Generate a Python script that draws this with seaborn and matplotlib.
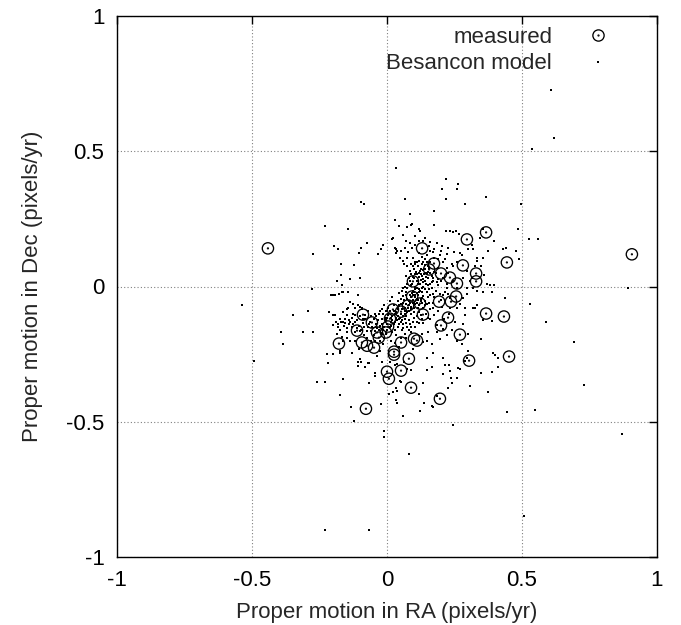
import matplotlib
matplotlib.use("Agg")
import matplotlib.pyplot as plt
import numpy as np
import pandas as pd
import seaborn as sns
from matplotlib.path import Path
from matplotlib.lines import Line2D

# Measured proper motions (RA, Dec) in pixels/yr
measured_ra = [-0.441, 0.907, 0.367, 0.296, 0.130, 0.444, 0.174, 0.281, 0.200, 0.330,
               0.330, 0.233, 0.259, 0.096, 0.256, 0.237, 0.193, 0.093, 0.022, 0.052,
               0.133, 0.226, 0.011, 0.200, 0.004, -0.004, 0.270, 0.100, 0.111, 0.052,
               0.026, 0.026, 0.081, 0.304, -0.089, -0.056, -0.111, -0.037, -0.093, -0.074,
               -0.048, -0.178, 0.000, 0.007, 0.052, 0.089, -0.078, 0.196, 0.367, 0.433,
               0.452, -0.030, 0.156, 0.122, 0.078]
measured_dec = [0.141, 0.119, 0.200, 0.174, 0.141, 0.089, 0.085, 0.078, 0.048, 0.048,
                0.019, 0.033, 0.011, 0.019, -0.037, -0.056, -0.056, -0.037, -0.085, -0.093,
                -0.104, -0.115, -0.119, -0.144, -0.148, -0.170, -0.178, -0.193, -0.200, -0.207,
                -0.241, -0.252, -0.267, -0.274, -0.104, -0.133, -0.163, -0.170, -0.207, -0.219,
                -0.226, -0.211, -0.315, -0.341, -0.311, -0.374, -0.452, -0.415, -0.100, -0.111,
                -0.259, -0.189, 0.063, -0.063, -0.070]

# Besancon model predictions, grouped by region of the diagram
model_outliers = [
    (0.607, 0.726), (0.619, 0.548), (0.537, 0.507), (0.033, 0.437), (-0.537, -0.067),
    (-0.493, -0.274), (-0.393, -0.167), (-0.385, -0.211), (-0.348, -0.107), (-0.293, -0.089),
    (-0.311, -0.167), (-0.274, -0.170), (-0.278, -0.011), (-0.274, 0.119), (-0.230, 0.222),
    (0.893, -0.004), (0.589, -0.133), (0.693, -0.207), (0.730, -0.363), (0.548, -0.456),
    (0.444, -0.463), (0.870, -0.544), (0.507, -0.848), (-0.230, -0.900), (-0.067, -0.900),
    (-0.011, -0.556), (0.081, -0.619), (0.244, -0.511), (0.530, -0.063), (0.496, 0.304),
]
model_upper_left = [
    (-0.144, 0.211), (-0.196, 0.148), (-0.181, 0.137), (-0.096, 0.144), (-0.074, 0.159),
    (-0.104, 0.122), (-0.033, 0.119), (-0.022, 0.137), (-0.015, 0.152), (0.019, 0.174),
    (-0.096, 0.311), (-0.085, 0.304), (-0.170, 0.085), (-0.122, 0.078), (-0.170, 0.041),
    (-0.137, 0.026), (-0.100, 0.030), (-0.185, 0.019), (-0.167, 0.007), (-0.200, -0.030),
    (-0.207, -0.033), (-0.167, -0.019), (-0.126, -0.063), (-0.107, -0.067), (-0.100, -0.074),
    (-0.148, -0.085), (-0.093, -0.085), (0.033, 0.137), (0.037, 0.130),
]
model_upper = [
    (0.219, 0.396), (0.263, 0.378), (0.204, 0.359), (0.259, 0.359), (0.067, 0.322),
    (0.219, 0.322), (0.289, 0.304), (0.085, 0.267), (0.174, 0.278), (0.030, 0.244),
    (0.044, 0.222), (0.074, 0.219), (0.089, 0.226), (0.119, 0.211), (0.174, 0.226),
    (0.219, 0.204), (0.244, 0.200), (0.256, 0.204), (0.267, 0.193), (0.233, 0.207),
    (0.122, 0.207), (0.093, 0.230), (0.022, 0.178), (0.030, 0.141), (0.033, 0.122),
    (0.052, 0.133), (0.067, 0.141), (0.078, 0.126), (0.093, 0.144), (0.104, 0.152),
    (0.133, 0.167), (0.159, 0.163), (0.185, 0.159), (0.204, 0.148), (0.226, 0.141),
    (0.248, 0.126), (0.270, 0.122), (0.315, 0.152), (0.333, 0.107), (0.222, 0.119),
    (0.196, 0.115), (0.170, 0.126), (0.148, 0.115), (0.119, 0.122), (0.096, 0.107),
    (0.074, 0.107), (0.048, 0.107), (0.063, 0.085), (0.089, 0.085), (0.111, 0.089),
    (0.130, 0.085), (0.148, 0.089), (0.207, 0.089), (0.241, 0.085), (0.259, 0.089),
    (0.222, 0.067), (0.189, 0.070), (0.122, 0.059), (0.104, 0.048), (0.085, 0.056),
    (0.148, 0.048), (0.170, 0.033), (0.207, 0.033), (0.244, 0.022), (0.281, 0.030),
    (0.307, 0.022), (0.093, 0.011), (0.133, 0.015), (0.152, 0.004), (0.189, 0.004),
    (0.222, -0.004), (0.259, -0.007), (0.296, -0.007), (0.319, -0.004), (0.111, -0.004),
    (0.122, -0.015), (0.148, -0.022), (0.170, -0.026), (0.207, -0.033), (0.233, -0.044),
    (0.281, -0.041), (0.096, -0.033), (0.130, -0.041), (0.344, 0.181), (0.300, 0.137),
    (0.319, 0.137), (0.278, 0.115), (0.215, 0.100), (0.174, 0.107), (0.059, 0.096),
    (0.074, 0.074), (0.104, 0.085), (0.244, 0.074), (0.296, 0.059), (0.326, 0.074),
    (0.333, 0.096), (0.315, 0.030), (0.333, -0.015), (0.296, -0.026), (0.226, -0.026),
    (0.196, -0.026), (0.222, 0.011), (0.167, 0.015), (0.189, 0.026), (0.326, -0.078),
    (0.289, -0.078), (0.259, -0.078),
    (0.19, 0.10), (0.20, 0.13), (0.175, 0.14), (0.16, 0.13), (0.155, 0.15),
    (0.14, 0.18), (0.12, 0.17), (0.105, 0.185), (0.085, 0.16), (0.07, 0.17), (0.06, 0.19),
    (0.18, 0.05), (0.20, 0.02), (0.225, 0.05),
]
model_right = [
    (0.367, 0.330), (0.485, 0.211), (0.526, 0.174), (0.559, 0.174), (0.356, 0.211),
    (0.396, 0.167), (0.374, 0.133), (0.430, 0.137), (0.441, 0.144), (0.478, 0.133),
    (0.356, 0.104), (0.489, 0.100), (0.348, 0.074), (0.359, 0.044), (0.370, 0.011),
    (0.381, 0.007), (0.396, 0.007), (0.356, -0.022), (0.389, -0.022), (0.437, -0.041),
    (0.374, -0.389), (0.348, -0.319), (0.389, -0.315), (0.411, -0.296), (0.393, -0.244),
    (0.400, -0.252), (0.411, -0.263), (0.348, -0.193), (0.389, -0.126), (0.356, -0.122),
]
model_lower = [
    (-0.122, -0.496), (-0.133, -0.444), (-0.022, -0.433), (0.059, -0.478), (0.122, -0.459),
    (0.170, -0.444), (0.137, -0.430), (0.037, -0.430), (0.033, -0.419), (0.007, -0.396),
    (0.022, -0.389), (0.037, -0.385), (0.185, -0.404), (-0.174, -0.400), (-0.259, -0.352),
    (-0.230, -0.352), (-0.163, -0.341), (-0.067, -0.356), (-0.044, -0.319), (-0.044, -0.330),
    (0.052, -0.352), (0.133, -0.356), (0.089, -0.307), (0.148, -0.307), (0.167, -0.296),
    (0.215, -0.289), (0.230, -0.289), (0.207, -0.322), (0.237, -0.337), (0.241, -0.356),
    (0.270, -0.304), (0.307, -0.367), (-0.107, -0.278), (-0.096, -0.278), (-0.067, -0.281),
    (-0.019, -0.278), (0.011, -0.278), (0.030, -0.289), (0.063, -0.278), (-0.222, -0.248),
    (-0.174, -0.244), (-0.011, -0.533), (0.033, -0.374), (0.048, -0.348), (0.037, -0.285),
    (0.074, -0.304), (0.096, -0.230), (0.133, -0.207), (0.148, -0.263), (0.170, -0.244),
    (0.207, -0.263), (0.233, -0.311), (0.259, -0.337), (0.289, -0.274), (0.300, -0.237),
    (0.278, -0.211), (0.300, -0.174), (0.281, -0.137), (0.289, -0.107), (0.319, -0.078),
    (0.333, -0.070), (0.233, -0.078), (0.148, -0.063), (0.270, -0.063), (0.119, -0.396),
    (0.167, -0.441), (0.185, -0.144), (0.207, -0.156), (0.222, -0.181), (0.196, -0.193),
    (0.167, -0.211), (0.148, -0.200), (0.152, -0.170), (0.130, -0.174), (0.296, -0.263),
    (0.226, -0.374), (0.263, -0.300),
    (0.16, -0.12), (0.175, -0.105), (0.19, -0.09), (0.205, -0.075), (0.185, -0.17),
    (0.21, -0.12), (0.23, -0.10), (0.25, -0.13), (0.24, -0.16), (0.26, -0.20),
    (0.20, -0.05), (0.215, -0.02),
]
model_left_arm = [
    (-0.193, -0.030), (-0.178, -0.026), (-0.163, -0.022), (-0.107, -0.030), (-0.137, -0.059),
    (-0.093, -0.078), (-0.119, -0.081), (-0.144, -0.078), (-0.200, -0.104), (-0.163, -0.096),
    (-0.148, -0.107), (-0.130, -0.115), (-0.119, -0.104), (-0.174, -0.119), (-0.163, -0.133),
    (-0.137, -0.133), (-0.119, -0.133), (-0.200, -0.144), (-0.181, -0.148), (-0.148, -0.152),
    (-0.137, -0.200), (-0.148, -0.189), (-0.163, -0.200), (-0.200, -0.248), (-0.219, -0.281),
    (-0.174, -0.237), (-0.130, -0.244), (-0.107, -0.293), (-0.081, -0.296), (-0.070, -0.281),
    (-0.100, -0.267), (-0.037, -0.256), (-0.026, -0.237), (-0.015, -0.211), (-0.063, -0.133),
    (-0.037, -0.152), (-0.019, -0.137), (-0.044, -0.100), (-0.026, -0.089), (-0.007, -0.115),
    (0.000, -0.137), (-0.070, -0.089), (-0.081, -0.119), (-0.215, -0.093), (-0.193, -0.104),
    (-0.144, -0.022),
    (-0.19, -0.13), (-0.175, -0.16), (-0.16, -0.145), (-0.15, -0.17), (-0.13, -0.15),
    (-0.12, -0.17), (-0.105, -0.145), (-0.095, -0.16), (-0.085, -0.18), (-0.07, -0.15),
    (-0.06, -0.165), (-0.05, -0.18), (-0.04, -0.14), (-0.03, -0.16), (-0.02, -0.175),
    (-0.01, -0.19), (-0.06, -0.20), (-0.075, -0.19), (-0.09, -0.12), (-0.10, -0.11),
    (-0.11, -0.125), (-0.125, -0.10), (-0.14, -0.125), (-0.155, -0.12), (-0.165, -0.185),
    (-0.185, -0.175), (-0.12, -0.20), (-0.105, -0.23), (-0.05, -0.12), (-0.02, -0.12),
    (-0.045, -0.20), (-0.025, -0.20), (0.015, -0.20), (0.03, -0.21), (0.045, -0.225),
    (-0.18, -0.14), (-0.17, -0.13), (-0.155, -0.135), (-0.14, -0.14), (-0.125, -0.14),
    (-0.11, -0.155), (-0.10, -0.165), (-0.085, -0.15), (-0.075, -0.165), (-0.065, -0.14),
    (-0.055, -0.15), (-0.045, -0.165), (-0.035, -0.125), (-0.025, -0.145), (-0.015, -0.16),
    (-0.005, -0.175), (-0.09, -0.135), (-0.08, -0.105), (-0.06, -0.11), (-0.04, -0.11),
]
model_core = [
    (0.03, -0.13), (0.045, -0.12), (0.06, -0.14), (0.05, -0.10), (0.07, -0.11),
    (0.08, -0.09), (0.065, -0.08), (0.09, -0.10), (0.10, -0.08), (0.085, -0.06),
    (0.095, -0.05), (0.11, -0.06), (0.12, -0.07), (0.105, -0.04), (0.115, -0.03),
    (0.125, -0.045), (0.13, -0.02), (0.12, -0.01), (0.135, 0.0), (0.14, 0.02),
    (0.125, 0.025), (0.13, 0.04), (0.145, 0.05), (0.15, 0.03), (0.11, 0.02),
    (0.10, 0.03), (0.095, -0.015), (0.085, -0.03), (0.075, -0.045), (0.06, -0.06),
    (0.045, -0.07), (0.035, -0.095), (0.02, -0.11), (0.015, -0.13), (0.04, -0.15),
    (0.055, -0.16), (0.07, -0.135), (0.08, -0.125), (0.095, -0.13), (0.11, -0.11),
    (0.12, -0.095), (0.135, -0.08), (0.14, -0.055), (0.15, -0.04), (0.155, -0.01),
    (0.16, 0.01), (0.165, 0.04), (0.155, 0.07), (0.14, 0.08), (0.125, 0.065),
    (0.115, 0.075), (0.10, 0.065), (0.09, 0.045), (0.08, 0.03), (0.075, 0.01),
    (0.07, -0.02), (0.06, -0.035), (0.05, -0.045), (0.04, -0.055), (0.025, -0.07),
    (0.01, -0.09), (0.005, -0.105), (-0.005, -0.125), (-0.01, -0.15), (0.0, -0.16),
    (0.02, -0.17), (0.035, -0.18), (0.05, -0.19), (0.065, -0.175), (0.08, -0.16),
    (0.09, -0.17), (0.105, -0.15), (0.12, -0.135), (0.13, -0.12), (0.145, -0.10),
    (0.16, -0.085), (0.17, -0.06), (0.175, -0.04), (0.18, -0.015), (0.185, 0.015),
    (0.175, 0.055), (0.16, 0.09), (0.14, 0.10), (0.13, 0.11), (0.07, 0.04),
    (0.065, 0.0), (0.055, -0.015), (0.045, -0.025), (0.02, -0.04), (0.01, -0.055),
    (-0.01, -0.07), (-0.02, -0.085), (-0.03, -0.10), (0.105, 0.0), (0.09, 0.005),
    (0.10, -0.02), (0.115, -0.05), (0.13, -0.06), (0.08, -0.07), (0.065, -0.10),
    (0.055, -0.125), (0.04, -0.11), (0.025, -0.14), (0.01, -0.15), (0.11, 0.045),
    (0.125, 0.045), (0.135, 0.06), (0.145, 0.035),
    (0.035, -0.115), (0.05, -0.13), (0.065, -0.12), (0.075, -0.095), (0.09, -0.085),
    (0.10, -0.095), (0.105, -0.065), (0.115, -0.08), (0.125, -0.055), (0.135, -0.035),
    (0.14, -0.01), (0.145, 0.01), (0.15, 0.055), (0.12, 0.05), (0.115, 0.01),
    (0.105, -0.01), (0.11, -0.025), (0.09, -0.04), (0.08, -0.055), (0.07, -0.065),
    (0.055, -0.085), (0.04, -0.085), (0.03, -0.10), (0.015, -0.115), (0.02, -0.125),
    (0.045, -0.14), (0.06, -0.155), (0.075, -0.15), (0.085, -0.14), (0.10, -0.115),
    (0.125, -0.105), (0.14, -0.07), (0.155, -0.06), (0.16, -0.03), (0.165, -0.005),
    (0.17, 0.02), (0.16, 0.05), (0.15, 0.075), (0.135, 0.09), (0.12, 0.095),
    (0.105, 0.09), (0.095, 0.075), (0.085, 0.02), (0.095, 0.035), (0.075, -0.005),
    (0.06, -0.005), (0.05, -0.065), (0.025, -0.09), (0.005, -0.08), (-0.015, -0.10),
    (-0.005, -0.09), (0.0, -0.115), (0.015, -0.145), (0.03, -0.16), (0.07, -0.19),
    (0.09, -0.15), (0.11, -0.13), (0.135, -0.135), (0.15, -0.115), (0.17, -0.08),
    (0.112, -0.045), (0.118, -0.02), (0.128, -0.005), (0.132, 0.028), (0.138, 0.045),
    (0.098, -0.06), (0.088, -0.075), (0.078, -0.08), (0.068, -0.09), (0.058, -0.11),
    (0.048, -0.115), (0.038, -0.125), (0.102, -0.03), (0.092, -0.025), (0.122, 0.01),
    (0.142, 0.065), (0.118, 0.035), (0.108, 0.055), (0.062, -0.05), (0.072, -0.03),
]

ticks = [-1, -0.5, 0, 0.5, 1]
tick_labels = ["-1", "-0.5", "0", "0.5", "1"]

model = pd.DataFrame(
    model_outliers + model_upper_left + model_upper + model_right
    + model_lower + model_left_arm + model_core,
    columns=["ra", "dec"],
)
measured = pd.DataFrame({"ra": measured_ra, "dec": measured_dec})

sns.set_style("white")
plt.rcParams["font.family"] = ["Liberation Sans", "DejaVu Sans"]
plt.rcParams["axes.unicode_minus"] = False

fig = plt.figure(figsize=(6.81, 6.25), dpi=100)
ax = fig.add_axes([117 / 681, 68 / 625, 540 / 681, 541 / 625])

# circle with a small centre dot, as in the gnuplot "measured" symbol
ring = Path.circle((0, 0), 1.0)
centre = Path.circle((0, 0), 0.08)
dot_circle = Path.make_compound_path(ring, centre)

sns.scatterplot(data=model, x="ra", y="dec", ax=ax, marker="s", s=4.2,
                color="black", linewidth=0, label="Besancon model", zorder=3)
sns.scatterplot(data=measured, x="ra", y="dec", ax=ax, marker=dot_circle, s=66,
                facecolor="none", edgecolor="black", linewidth=0.95,
                label="measured", zorder=4)

ax.set_xlim(-1, 1)
ax.set_ylim(-1, 1)
ax.set_xticks(ticks)
ax.set_xticklabels(tick_labels)
ax.set_yticks(ticks)
ax.set_yticklabels(tick_labels)
ax.grid(True, color="#808080", linestyle=(0, (1, 2)), linewidth=0.8)
ax.tick_params(direction="in", length=6, width=1, top=True, right=True,
               labelsize=16, pad=9, colors="black")
for sp in ax.spines.values():
    sp.set_color("black")
    sp.set_linewidth(1)

ax.set_xlabel("Proper motion in RA (pixels/yr)", fontsize=16, labelpad=8)
ax.set_ylabel("Proper motion in Dec (pixels/yr)", fontsize=16, labelpad=17)

h_meas = Line2D([], [], linestyle="none", marker=dot_circle, markersize=8.1,
                markerfacecolor="none", markeredgecolor="black", markeredgewidth=0.95)
h_mod = Line2D([], [], linestyle="none", marker="s", markersize=2.0,
               color="black", markeredgewidth=0)
ax.legend([h_meas, h_mod], ["measured", "Besancon model"], loc="upper right",
          bbox_to_anchor=(0.912, 0.9795), frameon=False, markerfirst=False,
          fontsize=16, handlelength=1.0, handletextpad=1.58, borderpad=0,
          borderaxespad=0, labelspacing=0.24)

fig.savefig("out.png", dpi=100, facecolor="white")
